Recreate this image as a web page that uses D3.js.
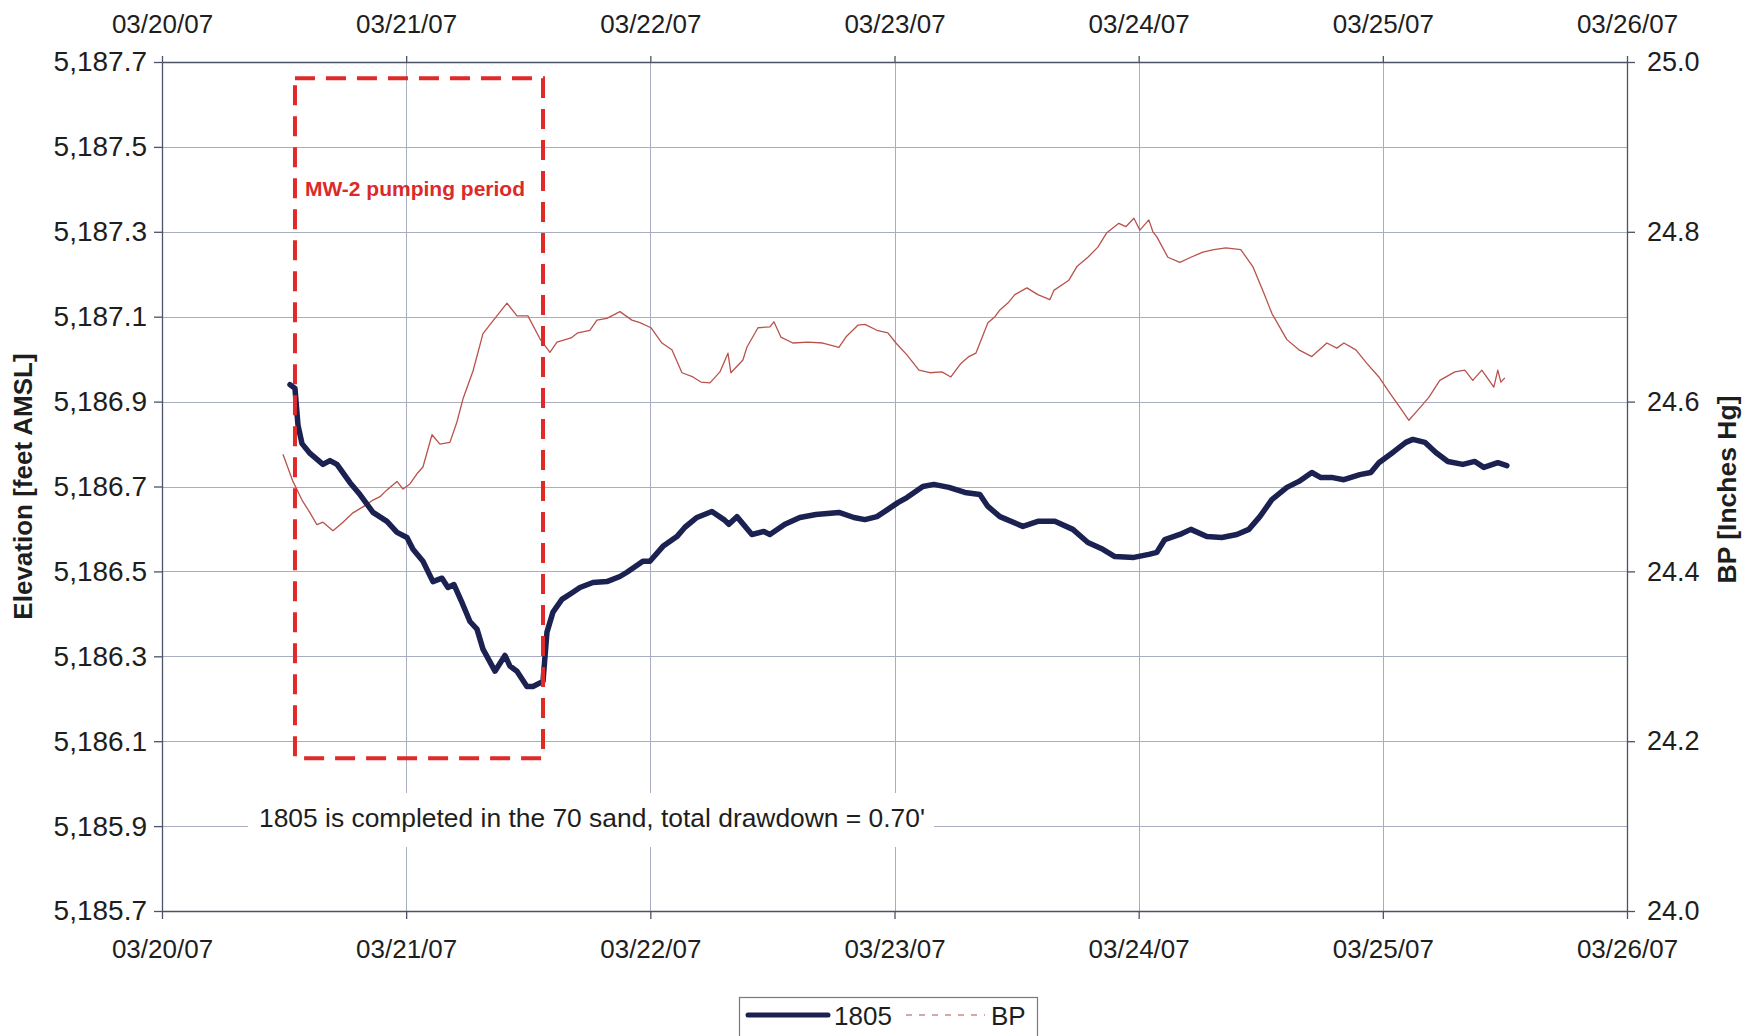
<!DOCTYPE html>
<html><head><meta charset="utf-8">
<script src="https://cdn.jsdelivr.net/npm/d3@7"></script>
<style>
body{margin:0;background:#fff}
svg{display:block}
text{font-family:"Liberation Sans",Arial,Helvetica,sans-serif}
</style>
</head><body>
<svg id="chart" width="1753" height="1036"></svg>
<script>
// ---------- data ----------
const domainStart = "2007-03-20T00:00:00Z";
const domainEnd = "2007-03-26T00:00:00Z";
const dateTicks = ["2007-03-20","2007-03-21","2007-03-22","2007-03-23","2007-03-24","2007-03-25","2007-03-26"];
const elevTicks = [5185.7,5185.9,5186.1,5186.3,5186.5,5186.7,5186.9,5187.1,5187.3,5187.5,5187.7];
const bpTicks = [24.0,24.2,24.4,24.6,24.8,25.0];

// hours after 03/20/07 00:00
const hours1805 = [12.58,13.07,13.37,13.76,14.55,15.82,16.51,17.20,18.48,19.46,20.74,22.11,
  23.10,24.08,24.67,25.65,26.63,27.52,28.11,28.70,29.48,30.27,30.96,31.55,32.73,33.71,34.20,34.89,35.87,36.46,37.45,
  37.84,38.43,39.31,40.39,41.08,42.36,43.73,45.01,45.70,47.27,47.96,49.24,
  50.61,51.40,52.58,54.05,55.23,55.72,56.51,57.98,59.16,59.75,61.23,62.70,64.28,66.54,68.01,69.09,70.27,71.35,72.33,73.22,74.79,75.87,77.35,78.92,80.39,81.18,
  82.36,84.62,86.09,87.76,89.53,91.01,92.48,93.66,95.53,97.00,97.79,98.57,100.05,101.13,102.70,104.17,105.65,106.83,107.91,109.09,110.57,111.75,113.02,113.91,115.08,116.17,117.74,118.82,119.61,121.08,122.26,122.95,124.13,125.21,126.39,127.86,129.04,129.93,131.30,132.19];
const elev1805 = [5186.940,5186.931,5186.844,5186.801,5186.778,5186.752,5186.761,5186.752,5186.709,5186.681,5186.639,5186.618,
  5186.592,5186.580,5186.552,5186.524,5186.476,5186.484,5186.462,5186.469,5186.427,5186.382,5186.364,5186.317,5186.265,5186.302,5186.277,5186.265,5186.229,5186.229,5186.241,
  5186.357,5186.404,5186.434,5186.451,5186.462,5186.474,5186.476,5186.488,5186.498,5186.524,5186.524,5186.559,
  5186.582,5186.604,5186.627,5186.641,5186.622,5186.611,5186.629,5186.587,5186.594,5186.587,5186.611,5186.627,5186.634,5186.639,5186.627,5186.622,5186.629,5186.646,5186.662,5186.674,5186.700,5186.705,5186.698,5186.686,5186.681,5186.653,
  5186.629,5186.606,5186.618,5186.618,5186.599,5186.568,5186.552,5186.535,5186.533,5186.540,5186.545,5186.575,5186.587,5186.599,5186.582,5186.580,5186.587,5186.599,5186.629,5186.669,5186.698,5186.712,5186.733,5186.721,5186.721,5186.716,5186.728,5186.733,5186.756,5186.782,5186.804,5186.811,5186.804,5186.780,5186.759,5186.752,5186.759,5186.745,5186.756,5186.749];

const hoursBP = [11.89,12.87,13.76,14.55,15.23,15.82,16.81,17.79,18.77,19.46,20.15,20.74,21.43,22.11,23.10,23.69,24.37,25.06,25.65,26.54,27.32,28.30,28.99,29.58,30.57,31.55,32.53,33.91,34.89,35.97,37.15,
  38.13,38.82,40.20,40.88,42.06,42.75,43.73,45.01,46.19,46.98,48.06,49.14,50.12,51.11,52.19,52.97,53.86,54.84,55.63,55.92,57.10,57.49,58.58,59.75,60.15,60.83,62.01,63.49,64.96,66.54,67.22,68.40,69.09,70.27,71.35,72.14,73.22,74.40,75.48,76.66,77.54,78.53,79.31,80.00,81.18,81.87,
  82.36,83.14,83.83,85.01,86.09,87.27,87.66,89.14,89.93,91.01,91.99,92.87,94.05,94.74,95.53,96.12,97.00,97.40,97.79,98.87,100.05,101.13,102.31,103.39,104.57,106.04,107.22,108.30,109.09,110.57,111.75,113.02,114.50,115.48,116.17,117.35,118.43,119.61,120.69,121.87,122.56,123.74,124.52,125.60,127.08,128.06,128.84,129.73,130.91,131.30,131.60,131.99];
const valuesBP = [24.538,24.506,24.484,24.469,24.455,24.458,24.448,24.458,24.469,24.474,24.479,24.484,24.488,24.496,24.506,24.497,24.503,24.515,24.523,24.561,24.550,24.552,24.576,24.603,24.636,24.680,24.695,24.716,24.701,24.701,24.674,
  24.658,24.670,24.675,24.681,24.684,24.696,24.698,24.706,24.696,24.693,24.687,24.669,24.661,24.634,24.629,24.623,24.622,24.635,24.657,24.634,24.649,24.664,24.687,24.688,24.694,24.676,24.669,24.670,24.669,24.664,24.676,24.690,24.691,24.684,24.681,24.669,24.655,24.637,24.634,24.635,24.629,24.645,24.653,24.657,24.693,24.700,
  24.708,24.716,24.726,24.734,24.726,24.720,24.731,24.743,24.759,24.770,24.782,24.799,24.810,24.806,24.816,24.802,24.814,24.800,24.794,24.770,24.764,24.770,24.776,24.779,24.781,24.779,24.759,24.728,24.704,24.673,24.661,24.653,24.669,24.663,24.669,24.661,24.645,24.629,24.610,24.590,24.578,24.594,24.605,24.625,24.635,24.637,24.625,24.637,24.617,24.637,24.623,24.628];

const pumpingPeriodHours = [13.07, 37.45];
const pumpingBoxElev = [5186.06, 5187.662];
const pumpingLabel = "MW-2 pumping period";
const noteText = "1805 is completed in the 70 sand, total drawdown = 0.70'";
const seriesNames = ["1805", "BP"];
const leftTitle = "Elevation [feet AMSL]";
const rightTitle = "BP [Inches Hg]";

// ---------- drawing ----------
const svg = d3.select("#chart");
svg.append("rect").attr("width",1753).attr("height",1036).attr("fill","#fff");

const L = 162, R = 1627, T = 62, B = 911;
const t0 = new Date(domainStart);
const hToDate = h => new Date(t0.getTime() + h*3600e3);

const x = d3.scaleUtc().domain([new Date(domainStart), new Date(domainEnd)]).range([L, R]);
const yL = d3.scaleLinear().domain([5185.7, 5187.7]).range([B, T]);
const yR = d3.scaleLinear().domain([24.0, 25.0]).range([B, T]);
const tickDates = dateTicks.map(s => new Date(s + "T00:00:00Z"));

const gridColor = "#a8adc0";
const axisColor = "#4d5266";
const textColor = "#1e1e1e";

// gridlines
const grid = svg.append("g");
grid.selectAll("line.h").data(elevTicks).join("line")
  .attr("x1", L).attr("x2", R).attr("y1", d => Math.round(yL(d))+0.5).attr("y2", d => Math.round(yL(d))+0.5)
  .attr("stroke", gridColor).attr("stroke-width", 1);
grid.selectAll("line.v").data(tickDates).join("line")
  .attr("y1", T).attr("y2", B).attr("x1", d => Math.round(x(d))+0.5).attr("x2", d => Math.round(x(d))+0.5)
  .attr("stroke", gridColor).attr("stroke-width", 1);

// white box behind annotation
svg.append("rect").attr("x", 248).attr("y", 793).attr("width", 686).attr("height", 54).attr("fill", "#fff");

function styleAxis(size){
  return g => {
    g.selectAll("path.domain").attr("stroke", axisColor).attr("stroke-width", 1.3);
    g.selectAll(".tick line").attr("stroke", axisColor).attr("stroke-width", 1.3);
    g.selectAll("text").attr("fill", textColor).style("font-size", size + "px")
      .style("font-family", '"Liberation Sans",Arial,sans-serif');
  };
}
const fmtDate = d3.utcFormat("%m/%d/%y");

svg.append("g").attr("transform", `translate(0,${B})`)
  .call(d3.axisBottom(x).tickValues(tickDates).tickFormat(fmtDate).tickSize(8).tickSizeOuter(0).tickPadding(21))
  .call(styleAxis(26));
svg.append("g").attr("transform", `translate(0,${T})`)
  .call(d3.axisTop(x).tickValues(tickDates).tickFormat(fmtDate).tickSize(6).tickSizeOuter(0).tickPadding(23))
  .call(styleAxis(26));
svg.append("g").attr("transform", `translate(${L},0)`)
  .call(d3.axisLeft(yL).tickValues(elevTicks).tickFormat(d3.format(",.1f")).tickSize(8).tickSizeOuter(0).tickPadding(7))
  .call(styleAxis(28));
svg.append("g").attr("transform", `translate(${R},0)`)
  .call(d3.axisRight(yR).tickValues(bpTicks).tickFormat(d3.format(".1f")).tickSize(8).tickSizeOuter(0).tickPadding(12))
  .call(styleAxis(27));

// axis titles
svg.append("text").attr("transform", `translate(32,${(T+B)/2}) rotate(-90)`)
  .attr("text-anchor","middle").attr("fill", textColor)
  .style("font-size","26px").style("font-weight","bold").text(leftTitle);
svg.append("text").attr("transform", `translate(1736,${(T+B)/2+3}) rotate(-90)`)
  .attr("text-anchor","middle").attr("fill", textColor)
  .style("font-size","26.5px").style("font-weight","bold").text(rightTitle);

// series
const bpColor = "#b8534c";
const navy = "#1b2150";
const lineBP = d3.line().x(d => x(hToDate(d[0]))).y(d => yR(d[1])).curve(d3.curveLinear);
const line1805 = d3.line().x(d => x(hToDate(d[0]))).y(d => yL(d[1])).curve(d3.curveLinear);

svg.append("path").datum(hoursBP.map((h,i) => [h, valuesBP[i]]))
  .attr("d", lineBP).attr("fill","none").attr("stroke", bpColor).attr("stroke-width", 1.3)
  .attr("stroke-linejoin","round");
svg.append("path").datum(hours1805.map((h,i) => [h, elev1805[i]]))
  .attr("d", line1805).attr("fill","none").attr("stroke", navy).attr("stroke-width", 5.5)
  .attr("stroke-linejoin","round").attr("stroke-linecap","round");

// pumping period box
const bx0 = x(hToDate(pumpingPeriodHours[0])), bx1 = x(hToDate(pumpingPeriodHours[1]));
const by0 = yL(pumpingBoxElev[1]), by1 = yL(pumpingBoxElev[0]);
svg.append("rect").attr("x", bx0).attr("y", by0).attr("width", bx1-bx0).attr("height", by1-by0)
  .attr("fill","none").attr("stroke","#e02a2a").attr("stroke-width", 4)
  .attr("stroke-dasharray","20,11");
svg.append("text").attr("x", bx0+10).attr("y", 196).attr("fill","#dc2a2a")
  .style("font-size","21px").style("font-weight","bold").text(pumpingLabel);

// annotation
svg.append("text").attr("x", 259).attr("y", 827).attr("fill", textColor)
  .style("font-size","26.4px").text(noteText);

// legend
const lg = svg.append("g");
lg.append("rect").attr("x", 739.5).attr("y", 997.5).attr("width", 298).attr("height", 50)
  .attr("fill","#fff").attr("stroke","#7a7a7a").attr("stroke-width",1.2);
lg.append("line").attr("x1",748).attr("x2",828).attr("y1",1015).attr("y2",1015)
  .attr("stroke", navy).attr("stroke-width",5).attr("stroke-linecap","round");
lg.append("text").attr("x",834).attr("y",1025).attr("fill",textColor).style("font-size","26px").text(seriesNames[0]);
lg.append("line").attr("x1",906).attr("x2",985).attr("y1",1015).attr("y2",1015)
  .attr("stroke", "#c98a86").attr("stroke-width",1.3).attr("stroke-dasharray","6,7");
lg.append("text").attr("x",991).attr("y",1025).attr("fill",textColor).style("font-size","26px").text(seriesNames[1]);
</script>
</body></html>
